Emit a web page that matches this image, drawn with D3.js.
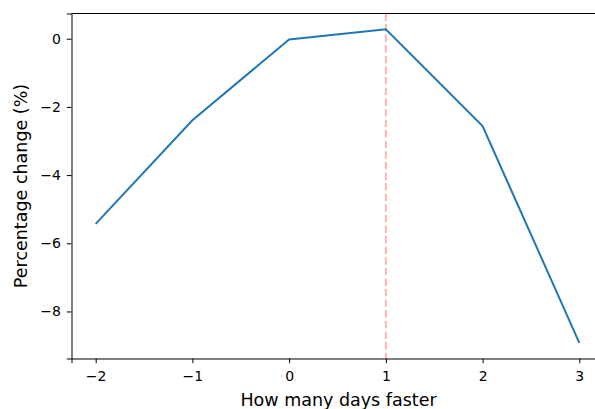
<!DOCTYPE html>
<html>
<head>
<meta charset="utf-8">
<script src="https://cdn.jsdelivr.net/npm/d3@7"></script>
<style>
  body { margin: 0; background: #fff; }
  svg { display: block; font-family: 'DejaVu Sans', sans-serif; }
  .tick text { font-size: 14px; font-family: 'DejaVu Sans', sans-serif; fill: #000; }
</style>
</head>
<body>
<svg width="595" height="409"></svg>
<script>
// values
const daysFaster = [-2, -1, 0, 1, 2, 3]
const pctChange = [-5.43, -2.39, -0.02, 0.28, -2.56, -8.92]
const xTicks = [-2, -1, 0, 1, 2, 3]
const yTicks = [0, -2, -4, -6, -8]
const refDay = 1

const margin = {top: 13.5, left: 71.5, bottom: 358.5}
const plotRight = 603.5

const svg = d3.select('svg')

const x = d3.scaleLinear([-2.25, 3.25], [margin.left, plotRight])
const y = d3.scaleLinear([-9.38, 0.74], [margin.bottom, margin.top])

const fmt = d => d < 0 ? '\u2212' + Math.abs(d) : String(d)

// style an axis like matplotlib
function styleAxis(g) {
    g.attr('font-size', 14).attr('font-family', 'DejaVu Sans')
    g.selectAll('line, path').attr('stroke', '#000').attr('stroke-width', 1)
}

svg.append('g')
    .attr('transform', `translate(0,${margin.bottom})`)
    .call(d3.axisBottom(x).tickValues(xTicks).tickFormat(fmt).tickSizeOuter(0).tickSize(4.7).tickPadding(7.5))
    .call(styleAxis)

svg.append('g')
    .attr('transform', `translate(${margin.left},0)`)
    .call(d3.axisLeft(y).tickValues(yTicks).tickFormat(fmt).tickSizeOuter(0).tickSize(4.7).tickPadding(6))
    .call(styleAxis)

// top spine
svg.append('line')
    .attr('x1', margin.left).attr('x2', plotRight)
    .attr('y1', margin.top).attr('y2', margin.top)
    .attr('stroke', '#000')

// reference line
svg.append('line')
    .attr('x1', x(refDay)).attr('x2', x(refDay))
    .attr('y1', margin.top).attr('y2', margin.bottom)
    .attr('stroke', '#ff0000').attr('stroke-opacity', 0.3)
    .attr('stroke-width', 2)
    .attr('stroke-dasharray', '7.4,3.2')

// data line
const line = d3.line()
    .x((d, i) => x(daysFaster[i]))
    .y(d => y(d))

svg.append('path')
    .datum(pctChange)
    .attr('d', line)
    .attr('fill', 'none')
    .attr('stroke', '#1f77b4')
    .attr('stroke-width', 2)

// labels
svg.append('text')
    .attr('x', 338.5)
    .attr('y', 406)
    .attr('text-anchor', 'middle')
    .attr('font-size', '17.5px')
    .text('How many days faster')

svg.append('text')
    .attr('transform', `translate(26.5,${(margin.top + margin.bottom) / 2}) rotate(-90)`)
    .attr('text-anchor', 'middle')
    .attr('font-size', '17.5px')
    .text('Percentage change (%)')
</script>
</body>
</html>
